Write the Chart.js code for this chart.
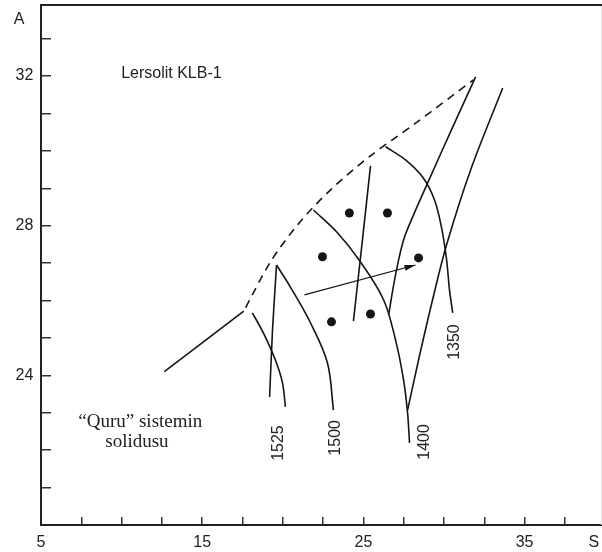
<!DOCTYPE html>
<html>
<head>
<meta charset="utf-8">
<script src="https://cdn.jsdelivr.net/npm/chart.js@4.4.1/dist/chart.umd.min.js"></script>
<style>
  html, body { margin: 0; padding: 0; background: #fff; overflow: hidden; }
  canvas { display: block; }
</style>
</head>
<body>
<canvas id="myChart" width="602" height="552"></canvas>
<script>
// axis ticks
const xTickValues = [5, 7.5, 10, 12.5, 15, 17.5, 20, 22.5, 25, 27.5, 30, 32.5, 35, 37.5];
const xLabelValues = [5, 15, 25, 35];
const yTickValues = [21, 22, 23, 24, 25, 26, 27, 28, 29, 30, 31, 32, 33];
const yLabelValues = [24, 28, 32];

// curves, [S, A] pairs
const solidus = [[12.65, 24.10], [17.58, 25.72]];
const solidusDashed = [[17.58, 25.72], [19.23, 27.03], [20.91, 28.02], [22.96, 28.96], [25.44, 29.87], [28.11, 30.70], [31.83, 31.90]];
const lineTop = [[31.96, 31.98], [30.46, 30.56], [28.98, 29.14], [28.11, 28.29], [27.49, 27.62], [26.99, 26.68], [26.56, 25.61]];
const iso1400Left = [[21.90, 28.42], [23.39, 27.81], [24.82, 27.03], [26.25, 26.02], [26.99, 24.95], [27.49, 23.88], [27.74, 22.99], [27.86, 22.19]];
const iso1400Right = [[27.74, 23.07], [28.42, 24.41], [29.29, 26.02], [30.16, 27.49], [31.65, 29.49], [33.64, 31.68]];
const iso1350 = [[26.37, 30.11], [27.61, 29.76], [28.67, 29.30], [29.41, 28.69], [29.85, 27.94], [30.16, 27.09], [30.34, 26.28], [30.54, 25.67]];
const midLine = [[25.44, 29.60], [24.94, 27.62], [24.38, 25.45]];
const iso1500 = [[19.61, 26.95], [20.47, 26.36], [21.72, 25.40], [22.77, 24.33], [23.14, 23.07]];
const iso1525a = [[19.61, 26.95], [19.36, 25.21], [19.18, 23.42]];
const iso1525b = [[18.11, 25.67], [18.80, 25.13], [19.54, 24.41], [19.98, 23.80], [20.16, 23.16]];
const meltPoints = [[24.13, 28.34], [26.49, 28.34], [22.46, 27.17], [28.42, 27.14], [23.02, 25.43], [25.44, 25.64]];
const arrow = [[21.34, 26.15], [28.23, 26.95]];

// curve labels
const isoLabels = ["1525", "1500", "1400", "1350"];
const isoLabelPos = [[19.74, 22.19], [23.27, 22.33], [28.79, 22.22], [30.65, 24.89]];

const sans = "'Liberation Sans', Arial, sans-serif";
const serif = "'Liberation Serif', 'Times New Roman', serif";
const ink = "#151515";

function toXY(arr) {
  return arr.map((p) => ({ x: p[0], y: p[1] }));
}

function curve(arr, extra) {
  return Object.assign({
    data: toXY(arr),
    showLine: true,
    pointRadius: 0,
    borderColor: ink,
    borderWidth: 1.6,
    tension: 0.35,
    fill: false,
  }, extra || {});
}

// no extra room for tick labels, the frame is fixed
function fixPadding(scale) {
  scale.paddingTop = 0;
  scale.paddingBottom = 0;
  scale.paddingLeft = 0;
  scale.paddingRight = 0;
}

const extras = {
  id: "extras",
  afterDraw(chart) {
    const { ctx, chartArea, scales } = chart;
    const sx = scales.x, sy = scales.y;
    ctx.save();

    // right edge of the frame is only a faint line in the original
    ctx.clearRect(chartArea.right - 3, chartArea.top + 1, 3, chartArea.bottom - chartArea.top - 2);
    ctx.strokeStyle = "#e4e4e4";
    ctx.lineWidth = 1;
    ctx.beginPath();
    ctx.moveTo(chartArea.right - 0.5, chartArea.top);
    ctx.lineTo(chartArea.right - 0.5, chartArea.bottom);
    ctx.stroke();

    // top frame line
    ctx.strokeStyle = "#222";
    ctx.lineWidth = 2;
    ctx.beginPath();
    ctx.moveTo(chartArea.left, chartArea.top);
    ctx.lineTo(chartArea.right, chartArea.top);
    ctx.stroke();

    // arrow head
    const x0 = sx.getPixelForValue(arrow[0][0]), y0 = sy.getPixelForValue(arrow[0][1]);
    const x1 = sx.getPixelForValue(arrow[1][0]), y1 = sy.getPixelForValue(arrow[1][1]);
    const ang = Math.atan2(y1 - y0, x1 - x0);
    const len = 11, half = 3;
    ctx.fillStyle = ink;
    ctx.beginPath();
    ctx.moveTo(x1, y1);
    ctx.lineTo(x1 - len * Math.cos(ang) + half * Math.sin(ang), y1 - len * Math.sin(ang) - half * Math.cos(ang));
    ctx.lineTo(x1 - len * Math.cos(ang) - half * Math.sin(ang), y1 - len * Math.sin(ang) + half * Math.cos(ang));
    ctx.closePath();
    ctx.fill();

    ctx.fillStyle = "#222";
    ctx.textAlign = "center";
    ctx.textBaseline = "middle";

    // axis names
    ctx.font = "16px " + sans;
    ctx.fillText("A", chartArea.left - 22, chartArea.top + 15);
    ctx.fillText("S", sx.getPixelForValue(39.3), chartArea.bottom + 18);

    ctx.fillText("Lersolit KLB-1", sx.getPixelForValue(13.09), sy.getPixelForValue(32.06));

    ctx.font = "19px " + serif;
    ctx.fillText("\u201CQuru\u201D sistemin", sx.getPixelForValue(11.16), sy.getPixelForValue(22.75));
    ctx.fillText("solidusu", sx.getPixelForValue(10.95), sy.getPixelForValue(22.22));

    // rotated isotherm labels
    ctx.font = "16px " + sans;
    isoLabels.forEach((txt, i) => {
      ctx.save();
      ctx.translate(sx.getPixelForValue(isoLabelPos[i][0]), sy.getPixelForValue(isoLabelPos[i][1]));
      ctx.rotate(-Math.PI / 2);
      ctx.fillText(txt, 0, 0);
      ctx.restore();
    });

    ctx.restore();
  },
};

const ctx = document.getElementById("myChart").getContext("2d");
const mainChart = new Chart(ctx, {
  type: "scatter",
  data: {
    datasets: [
      curve(solidus, { tension: 0 }),
      curve(solidusDashed, { borderDash: [8, 6], borderDashOffset: 10, tension: 0.3 }),
      curve(lineTop),
      curve(iso1400Left),
      curve(iso1400Right),
      curve(iso1350),
      curve(midLine, { tension: 0.2 }),
      curve(iso1500),
      curve(iso1525a, { tension: 0.2 }),
      curve(iso1525b),
      curve(arrow, { borderWidth: 1.2, tension: 0 }),
      {
        data: toXY(meltPoints),
        pointRadius: 4.5,
        pointBackgroundColor: ink,
        pointBorderColor: ink,
        pointBorderWidth: 0,
        showLine: false,
      },
    ],
  },
  options: {
    responsive: false,
    animation: false,
    events: [],
    // frame runs to the right edge of the picture
    layout: { autoPadding: false, padding: { top: 5, left: 0, right: 0, bottom: 0 } },
    plugins: {
      legend: { display: false },
      tooltip: { enabled: false },
    },
    scales: {
      x: {
        type: "linear",
        min: 5,
        max: 39.8,
        afterBuildTicks: (scale) => {
          scale.ticks = xTickValues.map((v) => ({ value: v }));
        },
        afterFit: (scale) => {
          scale.height = 27;
          fixPadding(scale);
        },
        ticks: {
          autoSkip: false,
          maxRotation: 0,
          padding: 16.4,
          color: "#222",
          font: { family: sans, size: 16 },
          callback: (v) => (xLabelValues.includes(v) ? String(v) : ""),
        },
        grid: {
          drawOnChartArea: false,
          tickLength: -8,
          color: "#333",
          lineWidth: 1.5,
        },
        border: { color: "#222", width: 2 },
      },
      y: {
        type: "linear",
        min: 20,
        max: 33.9,
        afterBuildTicks: (scale) => {
          scale.ticks = yTickValues.map((v) => ({ value: v }));
        },
        afterFit: (scale) => {
          scale.width = 41;
          fixPadding(scale);
        },
        ticks: {
          autoSkip: false,
          padding: 17.7,
          color: "#222",
          font: { family: sans, size: 16 },
          callback: (v) => (yLabelValues.includes(v) ? String(v) : ""),
        },
        grid: {
          drawOnChartArea: false,
          tickLength: -10,
          color: "#333",
          lineWidth: 1.5,
        },
        border: { color: "#222", width: 2 },
      },
    },
  },
  plugins: [extras],
});
</script>
</body>
</html>
